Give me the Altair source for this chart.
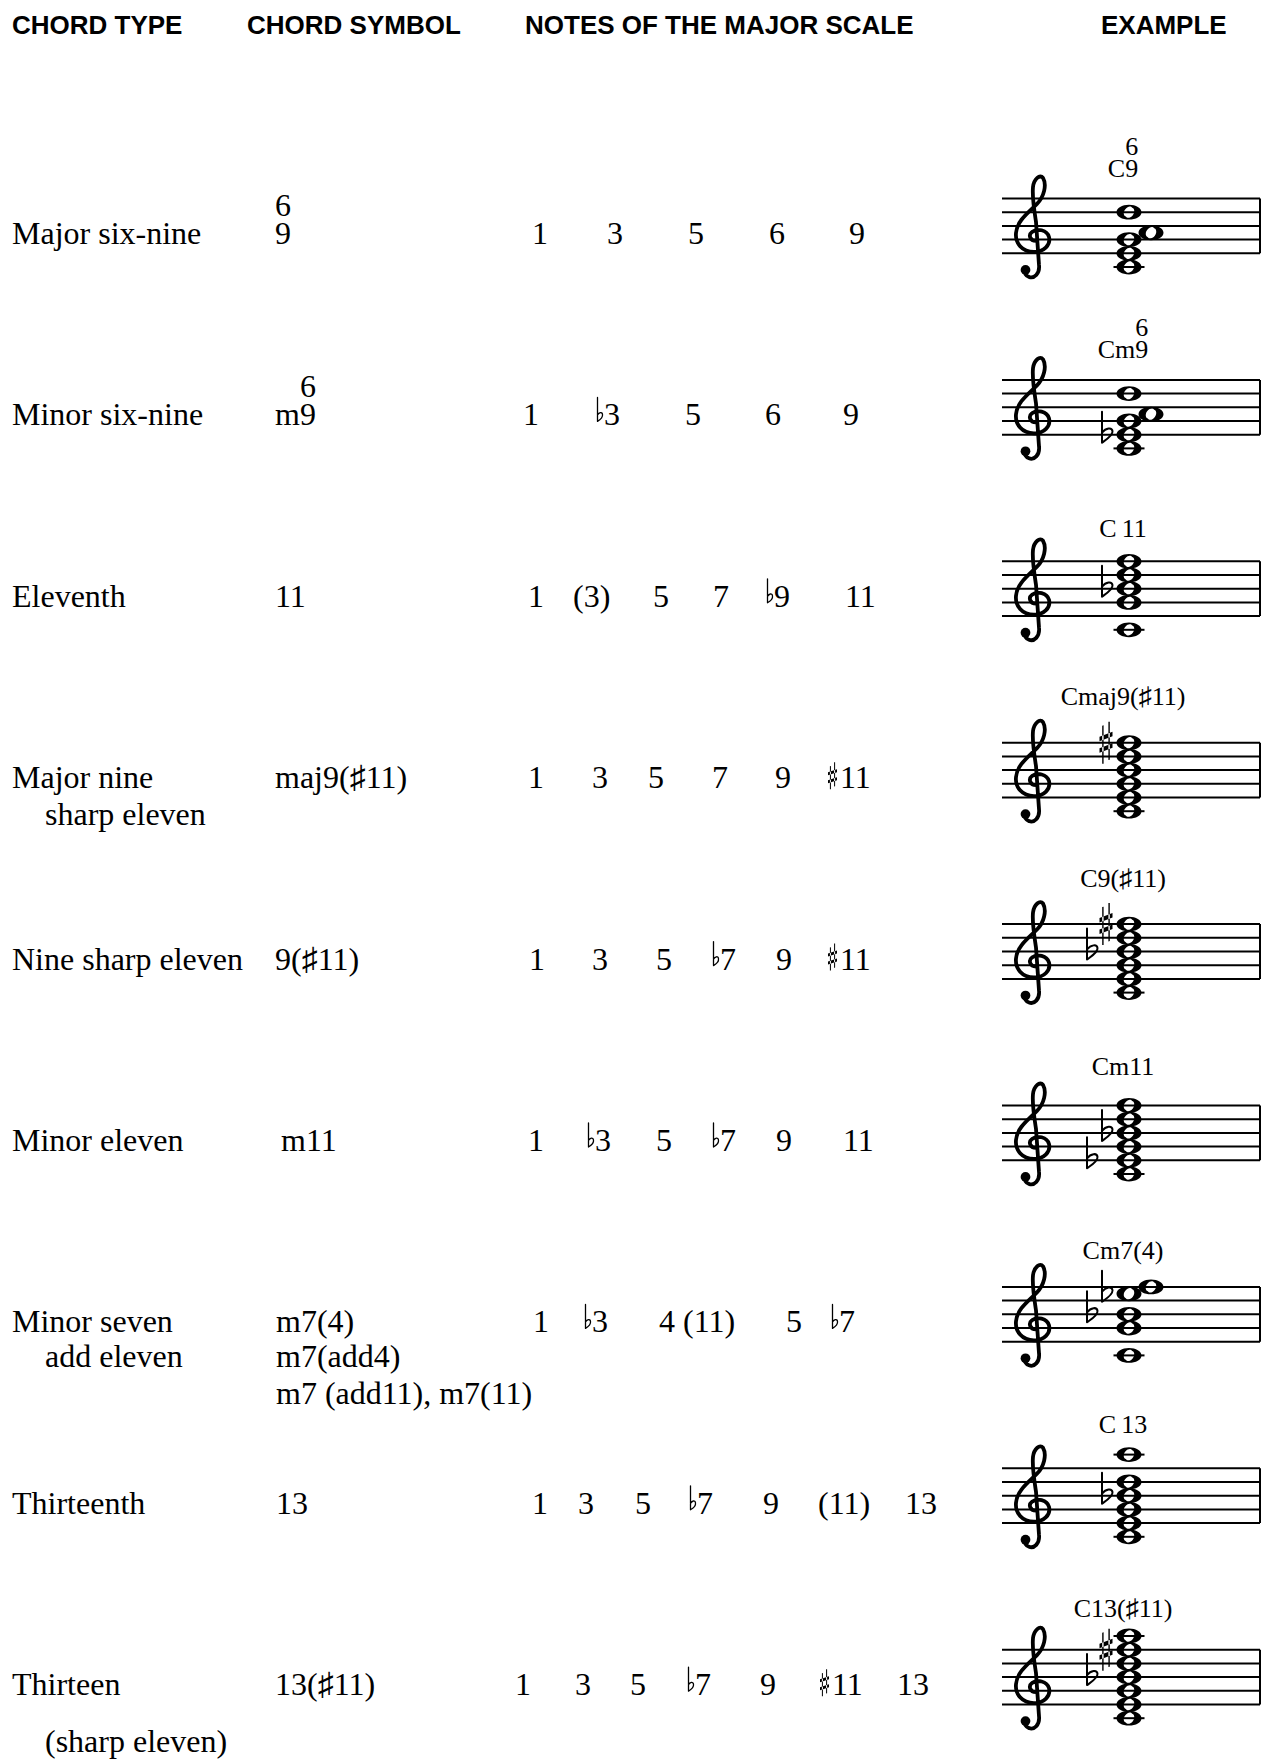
import altair as alt
import pandas as pd

# ---------------- data ----------------
HEADERS = ["CHORD TYPE", "CHORD SYMBOL", "NOTES OF THE MAJOR SCALE", "EXAMPLE"]

CHORD_TYPES = [
    ["Major six-nine"],
    ["Minor six-nine"],
    ["Eleventh"],
    ["Major nine", "sharp eleven"],
    ["Nine sharp eleven"],
    ["Minor eleven"],
    ["Minor seven", "add eleven"],
    ["Thirteenth"],
    ["Thirteen", "(sharp eleven)"],
]

CHORD_SYMBOLS = [
    ["9"], ["m9"], ["11"], ["maj9(♯11)"], ["9(♯11)"], ["m11"],
    ["m7(4)", "m7(add4)", "m7 (add11), m7(11)"], ["13"], ["13(♯11)"],
]
SYMBOL_SUPERSCRIPT = ["6", "6", "", "", "", "", "", "", ""]

SCALE_NOTES = [
    ["1", "3", "5", "6", "9"],
    ["1", "♭3", "5", "6", "9"],
    ["1", "(3)", "5", "7", "♭9", "11"],
    ["1", "3", "5", "7", "9", "♯11"],
    ["1", "3", "5", "♭7", "9", "♯11"],
    ["1", "♭3", "5", "♭7", "9", "11"],
    ["1", "♭3", "4 (11)", "5", "♭7"],
    ["1", "3", "5", "♭7", "9", "(11)", "13"],
    ["1", "3", "5", "♭7", "9", "♯11", "13"],
]

EXAMPLE_NAMES = ["C9", "Cm9", "C\u200911", "Cmaj9(♯11)", "C9(♯11)", "Cm11", "Cm7(4)", "C\u200913", "C13(♯11)"]
EXAMPLE_SUPERSCRIPT = ["6", "6", "", "", "", "", "", "", ""]

EXAMPLE_PITCHES = [
    ["C4", "E4", "G4", "A4", "D5"],
    ["C4", "E♭4", "G4", "A4", "D5"],
    ["C4", "G4", "B♭4", "D5", "F5"],
    ["C4", "E4", "G4", "B4", "D5", "F♯5"],
    ["C4", "E4", "G4", "B♭4", "D5", "F♯5"],
    ["C4", "E♭4", "G4", "B♭4", "D5", "F5"],
    ["C4", "G4", "B♭4", "E♭5", "F5"],
    ["C4", "E4", "G4", "B♭4", "D5", "A5"],
    ["C4", "E4", "G4", "B♭4", "D5", "F♯5", "A5"],
]

# ---------------- layout ----------------
ROW0, ROW_STEP = 244.0, 181.4
HEADER_X = [12, 247, 525, 1101]
HEADER_Y = 34
TYPE_X, TYPE_INDENT = 12, 45
TYPE_DY = [[0], [0], [0], [0, 37], [0], [0], [0, 35], [0], [0, 57]]
SYMBOL_X = [275, 275, 275, 275, 275, 281, 276, 276, 275]
SYMBOL_DY = [0, 35, 72]
NOTE_X = [
    [532, 607, 688, 769, 849],
    [523, 595, 685, 765, 843],
    [528, 573, 653, 713, 765, 845],
    [528, 592, 648, 712, 775, 828],
    [529, 592, 656, 711, 776, 828],
    [528, 586, 656, 711, 776, 843],
    [533, 583, 659, 786, 830],
    [532, 578, 635, 688, 763, 818, 905],
    [515, 575, 630, 686, 760, 820, 897],
]
STAFF_X0, STAFF_X1 = 1002, 1260
STAFF_TOP_DY, SPACE = -45.5, 13.7
CLEF_X = 1034
NOTE_CX, NOTE_SHIFT = 1129, 22
ACC_X = [1106, 1091, 1076]
LEDGER_HALF = 15.5
NAME_CX = 1123
NAME_DY = [-21.5, -21.5, -24.5, -38, -37.5, -30.5, -28, -35.5, -32.5]

BODY_FONT = "Liberation Serif, DejaVu Sans"
BODY_SIZE = 32
NAME_SIZE = 26
TIMES_W = {"C": 0.667, "m": 0.778, "9": 0.5, "6": 0.5}

# ---------------- glyph paths (pixel units, drawn with size=4) ----------------
WHOLE = ("M -12.5 0 A 12.5 7.4 0 1 0 12.5 0 A 12.5 7.4 0 1 0 -12.5 0 Z "
         "M -3.2 4.4 A 5.6 3.9 -55 1 1 3.2 -4.4 A 5.6 3.9 -55 1 1 -3.2 4.4 Z")
CLEF = ("M 2 14 C -4 14 -6 8 -2 5 C 3 1 13 3 15 10 C 17 18 10 25 0 25 "
        "C -12 25 -19 16 -18 6 C -17 -6 -6 -14 3 -23 C 10 -30 13 -42 9 -49 "
        "C 6 -53 0 -48 -1 -40 C -2 -30 0 -18 2 -5 L 5 38 C 6 47 0 52 -5 50 "
        "C -8 49 -10 46 -9 43")
FLAT_BIG = "M -4 -23 L -4 8 C 0 5 7 1 6.5 -3.5 C 6 -7.5 0 -7 -4 -2"
SHARP_BIG = ("M -3.8 -17 L -2.4 -17.4 L -2.4 21 L -3.8 21 Z "
             "M 2.4 -21 L 3.8 -21 L 3.8 17 L 2.4 17.4 Z "
             "M -6.5 -1.5 L 6.5 -6.5 L 6.5 -11 L -6.5 -6 Z "
             "M -6.5 10 L 6.5 5 L 6.5 0.5 L -6.5 5.5 Z")
FLAT_SMALL = "M 0 -28 L 0 -4 C 2.5 -5.5 5.5 -8 5 -11 C 4.5 -14 1.5 -13 0 -10.5"
SHARP_SMALL = ("M -2.6 -22 L -1.6 -22.3 L -1.6 1 L -2.6 1 Z "
               "M 1.6 -26 L 2.6 -26 L 2.6 -2 L 1.6 -1.7 Z "
               "M -4.5 -13 L 4.5 -16 L 4.5 -19 L -4.5 -16 Z "
               "M -4.5 -5 L 4.5 -8 L 4.5 -11 L -4.5 -8 Z")

# ---------------- build tables ----------------
def row_base(i):
    return ROW0 + i * ROW_STEP


def width(s, size):
    return sum(TIMES_W.get(c, 0.5) for c in s) * size


headers = pd.DataFrame({"x": HEADER_X, "y": [HEADER_Y] * 4, "text": HEADERS})

body_rows, small_flats, small_sharps, name_rows = [], [], [], []
for i in range(len(CHORD_TYPES)):
    b = row_base(i)
    for j, line in enumerate(CHORD_TYPES[i]):
        body_rows.append({"x": TYPE_X if j == 0 else TYPE_INDENT, "y": b + TYPE_DY[i][j], "text": line})
    for j, line in enumerate(CHORD_SYMBOLS[i]):
        body_rows.append({"x": SYMBOL_X[i], "y": b + SYMBOL_DY[j], "text": line})
    if SYMBOL_SUPERSCRIPT[i]:
        sx = SYMBOL_X[i] + width(CHORD_SYMBOLS[i][0][:-1], BODY_SIZE)
        body_rows.append({"x": sx, "y": b - 28, "text": SYMBOL_SUPERSCRIPT[i]})
    for tok, x in zip(SCALE_NOTES[i], NOTE_X[i]):
        if tok[0] == "♭":
            small_flats.append({"x": x + 2.5, "y": b})
            body_rows.append({"x": x + 9, "y": b, "text": tok[1:]})
        elif tok[0] == "♯":
            small_sharps.append({"x": x + 4.5, "y": b})
            body_rows.append({"x": x + 12, "y": b, "text": tok[1:]})
        else:
            body_rows.append({"x": x, "y": b, "text": tok})

body = pd.DataFrame(body_rows)

staff_rows, bar_rows, clef_rows, dot_rows = [], [], [], []
head_rows, ledger_rows, flat_rows, sharp_rows = [], [], [], []
names_c, names_l = [], []
LETTERS = "CDEFGAB"
for i, pitches in enumerate(EXAMPLE_PITCHES):
    b = row_base(i)
    top = b + STAFF_TOP_DY
    bottom = top + 4 * SPACE
    for k in range(5):
        staff_rows.append({"x": STAFF_X0, "x2": STAFF_X1, "y": top + k * SPACE})
    bar_rows.append({"x": STAFF_X1, "y": top, "y2": bottom})
    cy = top + 2 * SPACE + 1
    clef_rows.append({"x": CLEF_X, "y": cy})
    dot_rows.append({"x": CLEF_X - 8.5, "y": cy + 43})
    notes = []
    for p in pitches:
        acc = p[1] if p[1] in "♭♯" else ""
        step = (int(p[-1]) - 4) * 7 + LETTERS.index(p[0]) - 2
        notes.append((step, acc))
    notes.sort()
    disp = [False] * len(notes)
    for k in range(1, len(notes)):
        if notes[k][0] - notes[k - 1][0] == 1 and not disp[k - 1]:
            disp[k] = True
    for (step, acc), d in zip(notes, disp):
        y = bottom - step * SPACE / 2
        x = NOTE_CX + (NOTE_SHIFT if d else 0)
        head_rows.append({"x": x, "y": y})
        ledgers = []
        if step <= -2:
            ledgers = list(range(-2, step - 1, -2))
        elif step >= 10:
            ledgers = list(range(10, step + 1, 2))
        for s in ledgers:
            ledger_rows.append({"x": x - LEDGER_HALF, "x2": x + LEDGER_HALF, "y": bottom - s * SPACE / 2})
    accs = sorted([n for n in notes if n[1]], key=lambda n: -n[0])
    for k, (step, acc) in enumerate(accs):
        y = bottom - step * SPACE / 2
        (flat_rows if acc == "♭" else sharp_rows).append({"x": ACC_X[k], "y": y})
    ny = top + NAME_DY[i]
    if EXAMPLE_SUPERSCRIPT[i]:
        left = NAME_CX - width(EXAMPLE_NAMES[i], NAME_SIZE) / 2
        names_l.append({"x": left, "y": ny, "text": EXAMPLE_NAMES[i]})
        names_l.append({"x": left + width(EXAMPLE_NAMES[i][:-1], NAME_SIZE), "y": ny - 22,
                        "text": EXAMPLE_SUPERSCRIPT[i]})
    else:
        names_c.append({"x": NAME_CX, "y": ny, "text": EXAMPLE_NAMES[i]})

# ---------------- chart ----------------
XS = alt.Scale(domain=[8, 1262], nice=False, zero=False)
YS = alt.Scale(domain=[8, 1760], nice=False, zero=False, reverse=True)
X = alt.X("x:Q", scale=XS, axis=None)
Y = alt.Y("y:Q", scale=YS, axis=None)


def text_layer(df, font, size, weight="normal", align="left"):
    return alt.Chart(df).mark_text(font=font, fontSize=size, fontWeight=weight, align=align,
                                   baseline="alphabetic", color="black").encode(x=X, y=Y, text="text:N")


def glyph_layer(rows, path, filled, stroke_width=0.0):
    df = pd.DataFrame(rows)
    if filled:
        m = alt.Chart(df).mark_point(shape=path, size=4, filled=True, color="black", opacity=1,
                                     strokeWidth=0)
    else:
        m = alt.Chart(df).mark_point(shape=path, size=4, filled=False, color="black", opacity=1,
                                     strokeWidth=stroke_width, strokeCap="round", strokeJoin="round")
    return m.encode(x=X, y=Y)


layers = [
    text_layer(headers, "Liberation Sans", 26, "bold"),
    text_layer(body, BODY_FONT, BODY_SIZE),
    text_layer(pd.DataFrame(names_c), BODY_FONT, NAME_SIZE, align="center"),
    text_layer(pd.DataFrame(names_l), BODY_FONT, NAME_SIZE),
    alt.Chart(pd.DataFrame(staff_rows)).mark_rule(color="black", strokeWidth=2).encode(x=X, x2="x2:Q", y=Y),
    alt.Chart(pd.DataFrame(bar_rows)).mark_rule(color="black", strokeWidth=2).encode(x=X, y=Y, y2="y2:Q"),
    alt.Chart(pd.DataFrame(ledger_rows)).mark_rule(color="black", strokeWidth=2).encode(x=X, x2="x2:Q", y=Y),
    glyph_layer(head_rows, WHOLE, True),
    glyph_layer(clef_rows, CLEF, False, 3.8),
    alt.Chart(pd.DataFrame(dot_rows)).mark_point(shape="circle", size=95, filled=True, color="black",
                                                 opacity=1).encode(x=X, y=Y),
    glyph_layer(flat_rows, FLAT_BIG, False, 2.0),
    glyph_layer(sharp_rows, SHARP_BIG, True),
    glyph_layer(small_flats, FLAT_SMALL, False, 1.3),
    glyph_layer(small_sharps, SHARP_SMALL, True),
]

chart = alt.layer(*layers).properties(
    width=1254, height=1752, padding=0,
    autosize=alt.AutoSizeParams(type="none"),
    background="white",
).configure_view(strokeWidth=0)

chart.save("out.html", embed_options={"renderer": "svg", "actions": False})
